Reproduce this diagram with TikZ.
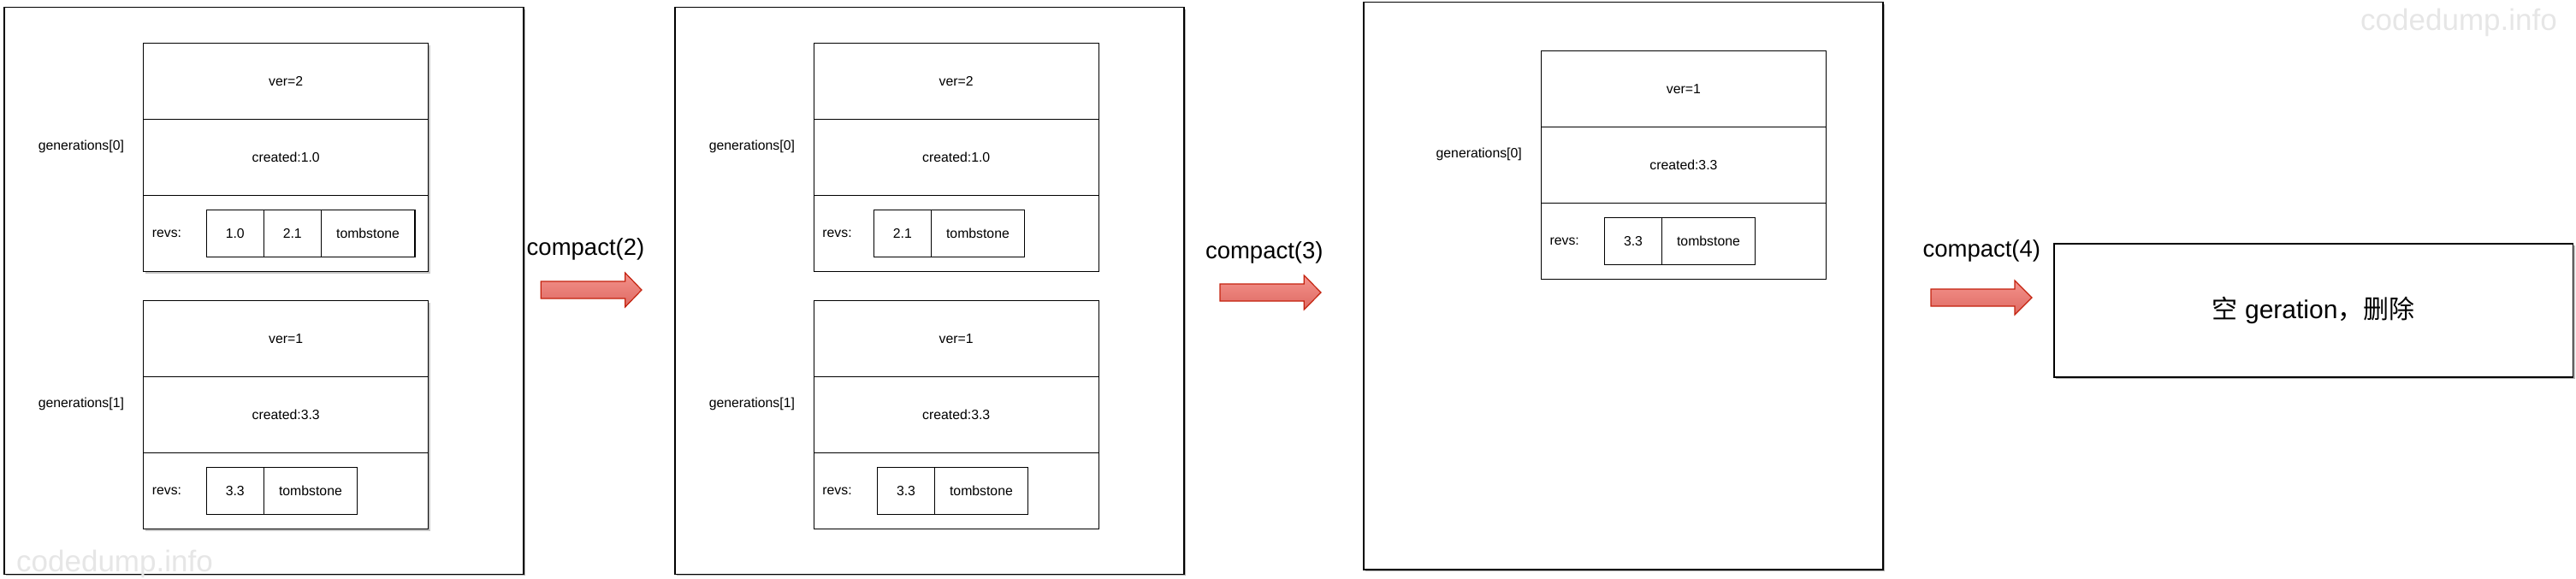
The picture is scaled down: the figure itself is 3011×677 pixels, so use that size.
\documentclass[tikz,border=0pt]{standalone}
\usepackage{fontspec}
\setmainfont{Liberation Sans}
\newfontfamily\cjkfont{Noto Sans CJK SC}
\usetikzlibrary{shadows}
\definecolor{arrowtop}{HTML}{F4928C}
\definecolor{arrowbot}{HTML}{DE6A62}
\definecolor{arrowline}{HTML}{C4220E}
\definecolor{wmark}{HTML}{E6E6E6}
\newcommand\dgsmall{\fontsize{15.8}{19}\selectfont}
\begin{document}
\begin{tikzpicture}[x=1pt,y=-1pt,
  frame/.style={draw=black, line width=1.8pt, inner sep=0pt, outer sep=0pt, fill=white, anchor=north west,
    drop shadow={shadow xshift=2pt, shadow yshift=-2pt, opacity=0.3, fill=black}},
  rowbox/.style={draw=black, line width=1.4pt, inner sep=0pt, outer sep=0pt, minimum width=333pt, minimum height=89pt, font=\dgsmall, fill=white},
  cell/.style={draw=black, line width=1.4pt, inner sep=0pt, outer sep=0pt, minimum height=55pt, font=\dgsmall},
  lbl/.style={inner sep=0pt, font=\dgsmall},
  cmp/.style={inner sep=0pt, font=\fontsize{27.5}{32}\selectfont},
  blockarrow/.style={draw=arrowline, line width=1.2pt, line join=miter, top color=arrowtop, bottom color=arrowbot},
  innershadow/.style={fill=black, opacity=0.22},
  wm/.style={inner sep=0pt, text=wmark, font=\fontsize{35}{40}\selectfont}
]
\useasboundingbox (0,0) rectangle (3011,677);

% ---------- panel 1 ----------
\node[frame, minimum width=607pt, minimum height=662.8pt] (p1) at (4.7,8.6) {};
\fill[innershadow] (170.2,53) rectangle (503.1,319.9);
\fill[innershadow] (170.2,354) rectangle (503.1,620.8);
\node[rowbox, anchor=north west] (p1g0v) at (167.7,50.5) {ver=2};
\node[rowbox, anchor=north] (p1g0c) at (p1g0v.south) {created:1.0};
\node[rowbox, anchor=north] (p1g0r) at (p1g0c.south) {};
\node[lbl, anchor=west] (p1g0rl) at ([xshift=10pt]p1g0r.west) {revs:};
\node[cell, minimum width=67.2pt, anchor=north west] (p1g0a) at (241.2,245.3) {1.0};
\node[cell, minimum width=66.8pt, anchor=west] (p1g0b) at (p1g0a.east) {2.1};
\node[cell, minimum width=109.6pt, anchor=west] (p1g0t) at (p1g0b.east) {tombstone};
\node[lbl] (p1l0) at (94.9,171.4) {generations[0]};

\node[rowbox, anchor=north west] (p1g1v) at (167.7,351.5) {ver=1};
\node[rowbox, anchor=north] (p1g1c) at (p1g1v.south) {created:3.3};
\node[rowbox, anchor=north] (p1g1r) at (p1g1c.south) {};
\node[lbl, anchor=west] (p1g1rl) at ([xshift=10pt]p1g1r.west) {revs:};
\node[cell, minimum width=67.2pt, anchor=north west] (p1g1a) at (241.2,546.6) {3.3};
\node[cell, minimum width=109.1pt, anchor=west] (p1g1t) at (p1g1a.east) {tombstone};
\node[lbl] (p1l1) at (94.9,472.4) {generations[1]};

% ---------- arrow 1 ----------
\node[cmp] (c2) at (684.5,291.7) {compact(2)};
\coordinate (ar1) at (632.3,339);
\draw[blockarrow] (ar1) ++(0,-10) -- ++(98.4,0) -- ++(0,-10) -- ++(19.3,20) -- ++(-19.3,20) -- ++(0,-10) -- ++(-98.4,0) -- cycle;

% ---------- panel 2 ----------
\node[frame, minimum width=595.1pt, minimum height=662.8pt] (p2) at (788.7,8.6) {};
\node[rowbox, anchor=north west] (p2g0v) at (951.2,50.5) {ver=2};
\node[rowbox, anchor=north] (p2g0c) at (p2g0v.south) {created:1.0};
\node[rowbox, anchor=north] (p2g0r) at (p2g0c.south) {};
\node[lbl, anchor=west] (p2g0rl) at ([xshift=10pt]p2g0r.west) {revs:};
\node[cell, minimum width=67.2pt, anchor=north west] (p2g0a) at (1021.2,245.3) {2.1};
\node[cell, minimum width=109.1pt, anchor=west] (p2g0t) at (p2g0a.east) {tombstone};
\node[lbl] (p2l0) at (878.9,171.4) {generations[0]};

\node[rowbox, anchor=north west] (p2g1v) at (951.2,351.5) {ver=1};
\node[rowbox, anchor=north] (p2g1c) at (p2g1v.south) {created:3.3};
\node[rowbox, anchor=north] (p2g1r) at (p2g1c.south) {};
\node[lbl, anchor=west] (p2g1rl) at ([xshift=10pt]p2g1r.west) {revs:};
\node[cell, minimum width=66.8pt, anchor=north west] (p2g1a) at (1025.6,546.6) {3.3};
\node[cell, minimum width=109.1pt, anchor=west] (p2g1t) at (p2g1a.east) {tombstone};
\node[lbl] (p2l1) at (878.9,472.4) {generations[1]};

% ---------- arrow 2 ----------
\node[cmp] (c3) at (1477.8,295) {compact(3)};
\coordinate (ar2) at (1426,342);
\draw[blockarrow] (ar2) ++(0,-10) -- ++(98.3,0) -- ++(0,-10) -- ++(19.7,20) -- ++(-19.7,20) -- ++(0,-10) -- ++(-98.3,0) -- cycle;

% ---------- panel 3 ----------
\node[frame, minimum width=606.8pt, minimum height=663.2pt] (p3) at (1594.2,2.6) {};
\node[rowbox, anchor=north west] (p3g0v) at (1801.4,59.6) {ver=1};
\node[rowbox, anchor=north] (p3g0c) at (p3g0v.south) {created:3.3};
\node[rowbox, anchor=north] (p3g0r) at (p3g0c.south) {};
\node[lbl, anchor=west] (p3g0rl) at ([xshift=10pt]p3g0r.west) {revs:};
\node[cell, minimum width=67.2pt, anchor=north west] (p3g0a) at (1875.4,254.3) {3.3};
\node[cell, minimum width=108.7pt, anchor=west] (p3g0t) at (p3g0a.east) {tombstone};
\node[lbl] (p3l0) at (1728.7,180.5) {generations[0]};

% ---------- arrow 3 ----------
\node[cmp] (c4) at (2316.3,293.6) {compact(4)};
\coordinate (ar3) at (2257,348);
\draw[blockarrow] (ar3) ++(0,-10) -- ++(98,0) -- ++(0,-10) -- ++(20,20) -- ++(-20,20) -- ++(0,-10) -- ++(-98,0) -- cycle;

% ---------- panel 4 ----------
\node[frame, minimum width=606.8pt, minimum height=156.3pt, font=\fontsize{30}{36}\selectfont] (p4) at (2400.7,285) {{\cjkfont 空} geration{\cjkfont ，删除}};

% ---------- watermarks ----------
\node[wm] (wm1) at (2874,26) {codedump.info};
\node[wm] (wm2) at (134,659) {codedump.info};
\end{tikzpicture}
\end{document}
